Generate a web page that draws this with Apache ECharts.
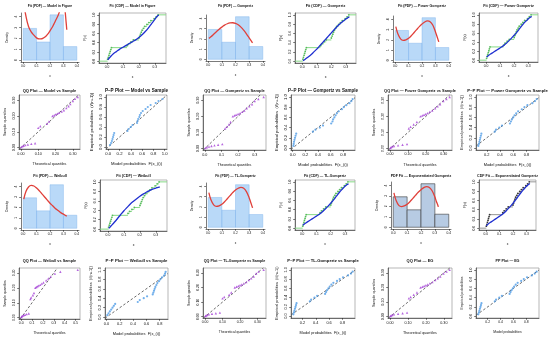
<!DOCTYPE html>
<html><head><meta charset="utf-8">
<script src="https://cdn.jsdelivr.net/npm/echarts@6/dist/echarts.min.js"></script>
<style>html,body{margin:0;padding:0;background:#fff}#c{width:550px;height:339px}</style>
</head><body><div id="c"></div>
<script>
// ---------------- data ----------------
const histBreaks = [0.0, 0.1, 0.2, 0.3, 0.4];
const histDensity = [2.92, 1.67, 4.17, 1.25];

const sampleSorted = [0.004,0.008,0.012,0.016,0.020,0.024,0.028,0.125,0.135,0.150,0.165,0.200,0.205,0.210,0.215,0.220,0.228,0.236,0.250,0.262,0.275,0.295,0.308,0.320];
const ecdfProb = [0.042,0.083,0.125,0.167,0.208,0.250,0.292,0.333,0.375,0.417,0.458,0.500,0.542,0.583,0.625,0.667,0.708,0.750,0.792,0.833,0.875,0.917,0.958,1.000];
const empiricalProb = [0.04,0.08,0.12,0.16,0.20,0.24,0.28,0.32,0.36,0.40,0.44,0.48,0.52,0.56,0.60,0.64,0.68,0.72,0.76,0.80,0.84,0.88,0.92,0.96];

const curveX = [0.005,0.02,0.04,0.06,0.08,0.10,0.12,0.14,0.16,0.18,0.20,0.22,0.24,0.26,0.28,0.30,0.31,0.32,0.325];

const pdfModel = [5.2,4.1,3.1,2.6,2.3,2.05,1.95,1.97,2.1,2.35,2.7,3.1,3.6,4.1,4.8,5.5,4.8,3.5,2.8];
const pdfGompertz = [2.05,2.2,2.45,2.7,2.95,3.15,3.35,3.48,3.56,3.58,3.52,3.38,3.15,2.85,2.5,2.1,1.9,1.7,1.6];
const pdfPowerG = [3.3,2.6,2.1,1.95,2.0,2.15,2.4,2.7,3.0,3.3,3.55,3.75,3.85,3.78,3.45,2.8,2.4,2.0,1.8];
const pdfWeibull = [2.8,3.5,3.95,4.1,4.05,3.85,3.6,3.3,3.0,2.7,2.4,2.15,1.9,1.7,1.5,1.35,1.27,1.2,1.15];
const pdfTLG = [3.4,2.7,2.2,2.05,2.1,2.25,2.5,2.8,3.1,3.4,3.65,3.82,3.9,3.82,3.5,2.9,2.5,2.1,1.9];
const pdfEG = [3.3,2.6,2.1,1.98,2.05,2.2,2.45,2.75,3.05,3.35,3.6,3.8,3.9,3.82,3.5,2.9,2.5,2.15,1.95];

const cdfModel = [0.03,0.09,0.16,0.21,0.26,0.30,0.34,0.38,0.42,0.46,0.51,0.57,0.64,0.72,0.81,0.90,0.95,0.985,0.995];
const cdfGompertz = [0.01,0.04,0.09,0.14,0.20,0.26,0.33,0.40,0.47,0.54,0.61,0.68,0.75,0.81,0.86,0.91,0.93,0.95,0.955];
const cdfPowerG = [0.07,0.11,0.15,0.19,0.23,0.27,0.31,0.36,0.42,0.48,0.55,0.62,0.70,0.78,0.85,0.91,0.935,0.955,0.965];
const cdfWeibull = [0.015,0.07,0.145,0.225,0.31,0.39,0.46,0.53,0.59,0.645,0.695,0.74,0.78,0.815,0.845,0.87,0.88,0.89,0.895];
const cdfTLG = [0.06,0.10,0.14,0.18,0.22,0.26,0.30,0.35,0.41,0.47,0.54,0.61,0.69,0.77,0.84,0.905,0.93,0.95,0.96];
const cdfEG = [0.05,0.095,0.135,0.175,0.215,0.255,0.295,0.345,0.405,0.465,0.535,0.61,0.69,0.77,0.84,0.905,0.93,0.952,0.965];

const qqTheoModel = [0.002,0.008,0.015,0.025,0.040,0.060,0.082,0.100,0.112,0.150,0.162,0.182,0.192,0.200,0.210,0.220,0.235,0.248,0.262,0.275,0.285,0.300,0.312,0.328];
const qqTheoGompertz = [0.003,0.012,0.025,0.040,0.058,0.080,0.105,0.122,0.132,0.145,0.155,0.168,0.178,0.188,0.200,0.212,0.225,0.238,0.252,0.268,0.284,0.300,0.322,0.354];
const qqTheoPowerG = [0.002,0.006,0.012,0.022,0.045,0.070,0.095,0.105,0.115,0.132,0.150,0.170,0.180,0.190,0.200,0.210,0.222,0.236,0.252,0.266,0.280,0.298,0.315,0.333];
const qqTheoWeibull = [0.001,0.005,0.012,0.022,0.035,0.050,0.070,0.085,0.092,0.108,0.118,0.130,0.140,0.150,0.160,0.175,0.190,0.205,0.230,0.250,0.272,0.310,0.360,0.520];
const qqTheoTLG = [0.002,0.006,0.012,0.022,0.040,0.062,0.085,0.100,0.110,0.138,0.150,0.170,0.180,0.190,0.200,0.210,0.222,0.236,0.250,0.264,0.278,0.292,0.306,0.335];
const qqTheoEG = [0.002,0.006,0.012,0.022,0.045,0.070,0.095,0.105,0.115,0.132,0.150,0.170,0.180,0.190,0.200,0.210,0.222,0.236,0.252,0.266,0.280,0.298,0.315,0.332];

const ppModel = [0.03,0.05,0.065,0.075,0.085,0.095,0.105,0.34,0.36,0.40,0.43,0.51,0.52,0.53,0.55,0.56,0.58,0.61,0.66,0.70,0.75,0.84,0.89,0.96];
const ppGompertz = [0.010,0.015,0.020,0.028,0.036,0.045,0.055,0.32,0.36,0.43,0.48,0.61,0.63,0.64,0.66,0.68,0.70,0.73,0.78,0.81,0.85,0.90,0.93,0.95];
const ppPowerG = [0.072,0.080,0.088,0.095,0.102,0.110,0.118,0.32,0.34,0.39,0.43,0.55,0.565,0.58,0.60,0.62,0.645,0.675,0.73,0.77,0.815,0.89,0.93,0.955];
const ppWeibull = [0.012,0.030,0.050,0.070,0.090,0.110,0.130,0.47,0.50,0.56,0.61,0.695,0.705,0.715,0.725,0.735,0.75,0.765,0.79,0.81,0.835,0.865,0.88,0.89];
const ppTLG = [0.062,0.070,0.078,0.086,0.094,0.102,0.110,0.31,0.33,0.38,0.42,0.54,0.555,0.57,0.59,0.61,0.635,0.665,0.72,0.76,0.81,0.885,0.93,0.955];
const ppEG = [0.055,0.064,0.072,0.080,0.088,0.096,0.104,0.31,0.33,0.38,0.42,0.54,0.555,0.57,0.59,0.61,0.635,0.665,0.72,0.76,0.81,0.885,0.93,0.96];

const densityTicks = [0,1,2,3,4];
const pdfXTicks = [0.0,0.1,0.2,0.3,0.4];
const cdfXTicks = [0.0,0.1,0.2,0.3];
const probTicks = [0.0,0.2,0.4,0.6,0.8,1.0];
const qqTicks = [0.0,0.1,0.2,0.3,0.4,0.5];

const titles = [
 'Fit (PDF) — Model in Figure','Fit (CDF) — Model in Figure','Fit (PDF) — Gompertz','Fit (CDF) — Gompertz','Fit (PDF) — Power Gompertz','Fit (CDF) — Power Gompertz',
 'QQ Plot — Model vs Sample','P–P Plot — Model vs Sample','QQ Plot — Gompertz vs Sample','P–P Plot — Gompertz vs Sample','QQ Plot — Power Gompertz vs Sample','P–P Plot — Power Gompertz vs Sample',
 'Fit (PDF) — Weibull','Fit (CDF) — Weibull','Fit (PDF) — TL-Gompertz','Fit (CDF) — TL-Gompertz','PDF Fit — Exponentiated Gompertz','CDF Fit — Exponentiated Gompertz',
 'QQ Plot — Weibull vs Sample','P–P Plot — Weibull vs Sample','QQ Plot — TL-Gompertz vs Sample','P–P Plot — TL-Gompertz vs Sample','QQ Plot — EG','PP Plot — EG'
];

// ---------------- layout / style ----------------
const FF = '"Liberation Sans", Arial, sans-serif';
const models = {
  model:{pdf:pdfModel, cdf:cdfModel, qq:qqTheoModel, pp:ppModel},
  gomp:{pdf:pdfGompertz, cdf:cdfGompertz, qq:qqTheoGompertz, pp:ppGompertz},
  pg:{pdf:pdfPowerG, cdf:cdfPowerG, qq:qqTheoPowerG, pp:ppPowerG},
  weib:{pdf:pdfWeibull, cdf:cdfWeibull, qq:qqTheoWeibull, pp:ppWeibull},
  tlg:{pdf:pdfTLG, cdf:cdfTLG, qq:qqTheoTLG, pp:ppTLG},
  eg:{pdf:pdfEG, cdf:cdfEG, qq:qqTheoEG, pp:ppEG}
};
const layout = [
 {t:'pdf', m:'model', box:[21,13,79,62], ty:6, tf:3.4},
 {t:'cdf', m:'model', box:[99,13,166,63], ty:6, tf:3.5},
 {t:'pdf', m:'gomp', box:[206,15,265,61], ty:6, tf:3.4},
 {t:'cdf', m:'gomp', box:[295,13,356,63], ty:6, tf:3.8},
 {t:'pdf', m:'pg', box:[393,16,451,62], ty:6, tf:3.5},
 {t:'cdf', m:'pg', box:[479,13,538,62], ty:6, tf:3.7},
 {t:'qq', m:'model', box:[19,95,80,149], ty:91, tf:4.0, xd:2},
 {t:'pp', m:'model', box:[106,95,167,149], ty:91, tf:4.6, full:true},
 {t:'qq', m:'gomp', box:[203,95,266,150], ty:91, tf:4.0, xd:1},
 {t:'pp', m:'gomp', box:[291,95,355,150], ty:91, tf:4.5},
 {t:'qq', m:'pg', box:[388,95,452,150], ty:91, tf:3.9, xd:2},
 {t:'pp', m:'pg', box:[476,95,539,150], ty:91, tf:4.3},
 {t:'pdf', m:'weib', box:[21,183,79,230], ty:176, tf:3.6},
 {t:'cdf', m:'weib', box:[100,180,167,231], ty:176, tf:3.7},
 {t:'pdf', m:'tlg', box:[206,183,265,229], ty:176, tf:3.4},
 {t:'cdf', m:'tlg', box:[295,180,355,230], ty:176, tf:3.5},
 {t:'pdf', m:'eg', box:[391,182,451,229], ty:176, tf:3.6, eg:true},
 {t:'cdf', m:'eg', box:[479,180,536,230], ty:176, tf:3.6, eg:true},
 {t:'qq', m:'weib', box:[19,268,80,319], ty:261, tf:3.8, xd:1},
 {t:'pp', m:'weib', box:[105,268,168,319], ty:261, tf:4.3},
 {t:'qq', m:'tlg', box:[203,268,266,318], ty:261, tf:3.7, xd:2},
 {t:'pp', m:'tlg', box:[291,268,355,318], ty:261, tf:4.2},
 {t:'qq', m:'eg', box:[388,268,452,318], ty:261, tf:4.0, xd:2},
 {t:'pp', m:'eg', box:[476,268,539,318], ty:261, tf:3.7, eg:true}
];

const option = {animation:false, backgroundColor:'#fff', grid:[], xAxis:[], yAxis:[], series:[], graphic:[]};

function pad(lo, hi){ const d=(hi-lo)*0.04; return [lo-d, hi+d]; }
function inRange(vals, r){ return vals.filter(v => v >= r[0]-1e-9 && v <= r[1]+1e-9); }
function mkAxis(gi, range, ticks, dec, name, gap, fs, isY){
  const tv = inRange(ticks, range);
  return {
    type:'value', gridIndex:gi, min:range[0], max:range[1],
    splitLine:{show:false},
    axisLine:{show:true, onZero:false, lineStyle:{color:'#222', width:0.6}},
    axisTick:{show:true, customValues:tv, length:1.8, lineStyle:{color:'#222', width:0.6}},
    axisLabel:{show:true, customValues:tv, formatter:(v)=>Number(v).toFixed(dec), fontSize:fs, fontFamily:FF, color:'#111',
      margin: isY?3:2.5, rotate: isY?90:0, hideOverlap:false},
    name:name, nameLocation:'middle', nameGap:gap, nameRotate:isY?90:0,
    nameTextStyle:{fontSize:fs, fontFamily:FF, color:'#111'}
  };
}
function segRender(color, w){
  return function(params, api){
    const a = api.coord([api.value(0), api.value(2)]);
    const b = api.coord([api.value(1), api.value(2)]);
    return {type:'line', shape:{x1:a[0], y1:a[1], x2:b[0], y2:b[1]}, style:{stroke:color, lineWidth:w, fill:null}};
  };
}
function rectRender(fill, stroke, w){
  return function(params, api){
    const a = api.coord([api.value(0), api.value(2)]);
    const b = api.coord([api.value(1), 0]);
    return {type:'rect', shape:{x:a[0], y:a[1], width:b[0]-a[0], height:b[1]-a[1]}, style:{fill:fill, stroke:stroke, lineWidth:w}};
  };
}
function diagSeries(gi, xr, yr){
  const lo = Math.max(xr[0], yr[0]), hi = Math.min(xr[1], yr[1]);
  return {type:'line', xAxisIndex:gi, yAxisIndex:gi, clip:false, showSymbol:false, symbol:'none', silent:true, z:1,
    lineStyle:{color:'#5a5a5a', width:0.9, type:[2.5,2]}, data:[[lo,lo],[hi,hi]]};
}

layout.forEach((p, gi) => {
  const [x0,y0,x1,y1] = p.box;
  const md = models[p.m];
  const fs = p.tf*0.92;
  option.grid.push({left:x0, top:y0, width:x1-x0, height:y1-y0, show:p.t!=='pdf', borderColor:'#888', borderWidth:0.6, backgroundColor:'transparent'});
  option.graphic.push({type:'text', x:(x0+x1)/2, y:p.ty, silent:true,
    style:{text:titles[gi], fontSize:p.tf, fontWeight:'bold', fontFamily:FF, fill:'#111', textAlign:'center', textVerticalAlign:'middle', align:'center', verticalAlign:'middle'}});
  const xg = 13, yg = 12;
  if (p.t === 'pdf') {
    const xr = [-0.016, 0.416], yr = [-0.167, 4.337];
    option.xAxis.push(mkAxis(gi, xr, pdfXTicks, 1, 'x', xg, fs, false));
    option.yAxis.push(mkAxis(gi, yr, densityTicks, 0, 'Density', yg, fs, true));
    const bins = histDensity.map((h,i)=>[histBreaks[i], histBreaks[i+1], h]);
    option.series.push({type:'custom', xAxisIndex:gi, yAxisIndex:gi, clip:false, encode:{x:[0,1], y:2},
      renderItem: p.eg ? rectRender('#b7cbe3', '#3a3a3a', 0.6) : rectRender('rgba(148,196,245,0.65)', 'rgba(120,175,235,0.8)', 0.5), data:bins});
    option.series.push({type:'line', xAxisIndex:gi, yAxisIndex:gi, clip:true, smooth:0.4, showSymbol:false, symbol:'none',
      lineStyle:{color:'#e0403a', width:1.3}, data:curveX.map((x,i)=>[x, md.pdf[i]])});
  } else if (p.t === 'cdf') {
    const xr = [-0.05, 0.37], yr = [-0.04, 1.04];
    option.xAxis.push(mkAxis(gi, xr, cdfXTicks, 1, 'x', xg, fs, false));
    option.yAxis.push(mkAxis(gi, yr, probTicks, 1, 'F(x)', yg, fs, true));
    const segs = [[xr[0], sampleSorted[0], 0]];
    for (let i=0;i<sampleSorted.length;i++) segs.push([sampleSorted[i], i+1<sampleSorted.length?sampleSorted[i+1]:xr[1], ecdfProb[i]]);
    option.series.push({type:'custom', xAxisIndex:gi, yAxisIndex:gi, clip:false, z:1, encode:{x:[0,1], y:2},
      renderItem: p.eg ? segRender('#8a8a8a', 0.9) : segRender('#86d986', 1.0), data:segs});
    option.series.push({type:'scatter', xAxisIndex:gi, yAxisIndex:gi, symbolSize:1.8,
      itemStyle:{color: p.eg ? '#111' : '#3cb043'}, data:sampleSorted.map((x,i)=>[x, ecdfProb[i]])});
    option.series.push({type:'line', xAxisIndex:gi, yAxisIndex:gi, clip:true, smooth:0.4, showSymbol:false, symbol:'none',
      lineStyle:{color:'#1f2fd0', width:1.3}, data:curveX.map((x,i)=>[x, md.cdf[i]])});
  } else if (p.t === 'qq') {
    const th = md.qq;
    const xr = pad(Math.min(...th), Math.max(...th));
    const yr = pad(Math.min(...sampleSorted), Math.max(...sampleSorted));
    option.xAxis.push(mkAxis(gi, xr, qqTicks, p.xd, 'Theoretical quantiles', xg, fs, false));
    option.yAxis.push(mkAxis(gi, yr, qqTicks, 2, 'Sample quantiles', yg, fs, true));
    option.series.push(diagSeries(gi, xr, yr));
    option.series.push({type:'scatter', xAxisIndex:gi, yAxisIndex:gi, symbol:'triangle', symbolSize:2.4, z:3,
      itemStyle:{color:'#a23fd6'}, data:th.map((x,i)=>[x, sampleSorted[i]])});
  } else {
    const pr = md.pp;
    const xr = p.full ? [-0.04, 1.04] : pad(Math.min(...pr), Math.max(...pr));
    const yr = [-0.04, 1.04];
    const xn = p.eg ? 'Model probabilities' : 'Model probabilities  F(x_(i))';
    const yn = p.eg ? 'Empirical probabilities' : 'Empirical probabilities  (i/(n+1))';
    option.xAxis.push(mkAxis(gi, xr, probTicks, 1, xn, xg, fs, false));
    option.yAxis.push(mkAxis(gi, yr, probTicks, 1, yn, yg, fs, true));
    option.series.push(diagSeries(gi, xr, yr));
    option.series.push({type:'scatter', xAxisIndex:gi, yAxisIndex:gi, symbolSize:2.2, z:3,
      itemStyle:{color:'#4d9be6'}, data:pr.map((x,i)=>[x, empiricalProb[i]])});
  }
});

const chart = echarts.init(document.getElementById('c'), null, {renderer:'canvas'});
chart.setOption(option);
</script>
</body></html>
